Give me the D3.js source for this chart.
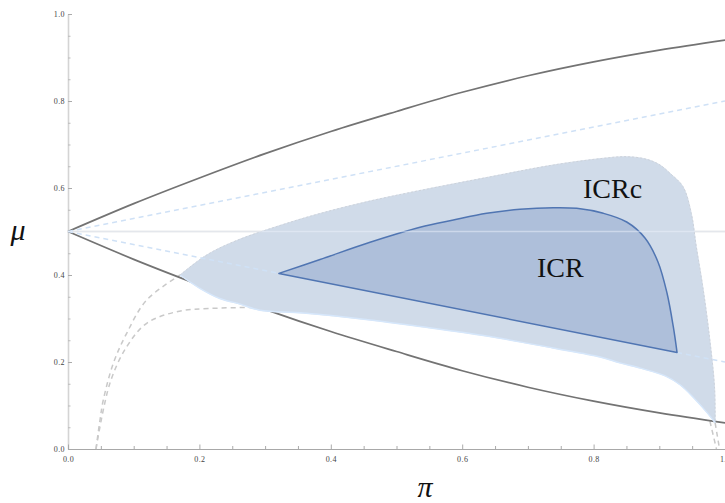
<!DOCTYPE html>
<html>
<head>
<meta charset="utf-8">
<script src="https://cdn.jsdelivr.net/npm/d3@7"></script>
<style>
  html, body { margin: 0; padding: 0; background: #fff; }
  svg { display: block; }
  .serif { font-family: "Liberation Serif", "Times New Roman", Times, "DejaVu Serif", "Noto Serif", serif; }
  .tick text { font-family: "Liberation Serif", "Times New Roman", Times, "DejaVu Serif", "Noto Serif", serif; font-size: 8px; fill: #444; letter-spacing: 0.4px; }
</style>
</head>
<body>
<svg id="chart" width="725" height="503"></svg>
<script>
// ---- data ----
// grid on the π axis used by the two outer bound curves
const piGrid    = [0, 0.1, 0.2, 0.3, 0.4, 0.5, 0.6, 0.7, 0.8, 0.9, 1.0];
const boundHigh = [0.5, 0.564, 0.623, 0.679, 0.730, 0.776, 0.820, 0.858, 0.890, 0.917, 0.940];
const boundLow  = [0.5, 0.436, 0.377, 0.321, 0.270, 0.224, 0.180, 0.142, 0.110, 0.083, 0.060];

// straight reference rays from (0, 0.5)
const rayPi   = [0, 1];
const rayHigh = [0.5, 0.8];
const rayLow  = [0.5, 0.2];

// grey dashed branches near the π axis
const branchA_pi = [0.0426, 0.0487, 0.0537, 0.069, 0.0893, 0.1198, 0.1705];
const branchA_mu = [0.0, 0.0667, 0.1126, 0.197, 0.266, 0.3425, 0.400];
const branchB_pi = [0.0426, 0.0639, 0.0893, 0.1198, 0.1654, 0.216, 0.292];
const branchB_mu = [0.0, 0.1517, 0.235, 0.289, 0.3156, 0.323, 0.3257];
const branchC_pi = [0.977, 0.987];
const branchC_mu = [0.064, 0.0];
const branchD_pi = [0.985, 0.9917];
const branchD_mu = [0.060, 0.0];

// ICRc region: outer edge (left tip -> over the top -> bottom-right tip)
const icrcTop_pi = [0.1705, 0.2111, 0.2567, 0.3227, 0.3836, 0.4597, 0.5358, 0.6372, 0.7387, 0.8148, 0.8504, 0.8808, 0.9011, 0.9163, 0.9361, 0.9487, 0.9563, 0.9662, 0.9763, 0.984, 0.985];
const icrcTop_mu = [0.400, 0.446, 0.4793, 0.5138, 0.5414, 0.5701, 0.5943, 0.6241, 0.6529, 0.6683, 0.672, 0.666, 0.6529, 0.6338, 0.603, 0.5418, 0.465, 0.3731, 0.2582, 0.1432, 0.060];
// ICRc region: inner edge (bottom-right tip -> left tip)
const icrcLow_pi = [0.985, 0.973, 0.954, 0.932, 0.909, 0.871, 0.840, 0.810, 0.738, 0.637, 0.536, 0.460, 0.358, 0.292, 0.262, 0.231, 0.200, 0.1705];
const icrcLow_mu = [0.060, 0.083, 0.115, 0.147, 0.168, 0.186, 0.198, 0.2115, 0.2322, 0.2598, 0.2816, 0.2966, 0.3126, 0.319, 0.333, 0.346, 0.370, 0.400];

// ICR region: curved top edge; the bottom edge is the straight chord back to the start
const icr_pi = [0.321, 0.3836, 0.4597, 0.5358, 0.5865, 0.6373, 0.688, 0.7387, 0.7743, 0.8148, 0.8504, 0.8782, 0.898, 0.9117, 0.9213, 0.927];
const icr_mu = [0.4037, 0.4356, 0.4752, 0.5097, 0.5264, 0.5418, 0.551, 0.5547, 0.5533, 0.5418, 0.5218, 0.485, 0.430, 0.3586, 0.2811, 0.2219];

// axes
const xMajor = [0, 0.2, 0.4, 0.6, 0.8, 1.0];
const yMajor = [0, 0.2, 0.4, 0.6, 0.8, 1.0];
const minorTicks = [0.05, 0.1, 0.15, 0.25, 0.3, 0.35, 0.45, 0.5, 0.55, 0.65, 0.7, 0.75, 0.85, 0.9, 0.95];
const regionLabels = ["ICRc", "ICR"];

// ---- drawing ----
const svg = d3.select("#chart");
const x = d3.scaleLinear().domain([0, 1]).range([68, 725]);
const y = d3.scaleLinear().domain([0, 1]).range([449, 14]);

const zip = (a, b) => a.map((v, i) => [v, b[i]]);
const smooth = d3.line().x(d => x(d[0])).y(d => y(d[1])).curve(d3.curveMonotoneX);
const spline = d3.line().x(d => x(d[0])).y(d => y(d[1])).curve(d3.curveCatmullRom.alpha(0.5));
const straight = d3.line().x(d => x(d[0])).y(d => y(d[1]));

// axes
const fmt = d => d.toFixed(1);
const yAxis = svg.append("g").attr("transform", "translate(68,0)")
  .call(d3.axisLeft(y).tickValues(yMajor).tickFormat(fmt).tickSizeInner(-4).tickSizeOuter(0).tickPadding(3));
const yMinor = svg.append("g").attr("transform", "translate(68,0)")
  .call(d3.axisLeft(y).tickValues(minorTicks).tickFormat("").tickSizeInner(-2.5).tickSizeOuter(0));
yAxis.select(".domain").attr("stroke", "#d4d4d4").attr("stroke-width", 1.6);
yMinor.select(".domain").remove();

const xAxis = svg.append("g").attr("transform", "translate(0,449)")
  .call(d3.axisBottom(x).tickValues(xMajor).tickFormat(fmt).tickSizeInner(-4.5).tickSizeOuter(0).tickPadding(7));
const xMinor = svg.append("g").attr("transform", "translate(0,449)")
  .call(d3.axisBottom(x).tickValues(minorTicks).tickFormat("").tickSizeInner(-3).tickSizeOuter(0));
xAxis.select(".domain").attr("stroke", "#a8a8a8").attr("stroke-width", 1.2);
xMinor.select(".domain").remove();
xAxis.selectAll(".tick line").attr("stroke", "#aaa");
xMinor.selectAll(".tick line").attr("stroke", "#aaa");
yAxis.selectAll(".tick line").attr("stroke", "#aaa");
yMinor.selectAll(".tick line").attr("stroke", "#bbb");
svg.selectAll(".tick text").attr("font-family", null);

// horizontal guide at μ = 0.5
svg.append("line").attr("x1", x(0)).attr("x2", x(1)).attr("y1", y(0.5)).attr("y2", y(0.5))
  .attr("stroke", "#dcdcdc").attr("stroke-width", 1.3);

// grey dashed branches
[[branchA_pi, branchA_mu], [branchB_pi, branchB_mu], [branchC_pi, branchC_mu], [branchD_pi, branchD_mu]]
  .forEach(([p, m]) => {
    svg.append("path").attr("d", spline(zip(p, m)))
      .attr("fill", "none").attr("stroke", "#c9c9c9").attr("stroke-width", 1.5)
      .attr("stroke-dasharray", "5,4");
  });

// outer bounds
[boundHigh, boundLow].forEach(vals => {
  svg.append("path").attr("d", smooth(zip(piGrid, vals)))
    .attr("fill", "none").attr("stroke", "#737373").attr("stroke-width", 1.7);
});

// upper ray (outside the regions)
svg.append("path").attr("d", straight(zip(rayPi, rayHigh)))
  .attr("fill", "none").attr("stroke", "#cfe1f6").attr("stroke-width", 1.5).attr("stroke-dasharray", "5,4");

// ICRc region
const topPath = spline(zip(icrcTop_pi, icrcTop_mu));
const lowPath = spline(zip(icrcLow_pi, icrcLow_mu));
svg.append("path").attr("d", topPath + "L" + lowPath.slice(1) + "Z")
  .attr("fill", "#d0dbe9").attr("stroke", "#d0dbe9").attr("stroke-width", 0.8);
svg.append("path").attr("d", lowPath)
  .attr("fill", "none").attr("stroke", "#d6e7fb").attr("stroke-width", 1.4);
svg.append("path").attr("d", topPath)
  .attr("fill", "none").attr("stroke", "#c9ced6").attr("stroke-width", 1).attr("stroke-opacity", 0.8)
  .attr("stroke-dasharray", "2,2");

// lower ray (runs across the ICRc region)
svg.append("path").attr("d", straight(zip(rayPi, rayLow)))
  .attr("fill", "none").attr("stroke", "#cfe1f6").attr("stroke-width", 1.5).attr("stroke-dasharray", "5,4");

// ICR region
const icrPts = zip(icr_pi, icr_mu);
svg.append("path").attr("d", spline(icrPts) + "Z")
  .attr("fill", "#aebfda").attr("stroke", "#5075b2").attr("stroke-width", 1.5)
  .attr("stroke-linejoin", "round");

// light overlay of the μ = 0.5 guide on top of the regions
svg.append("line").attr("x1", x(0)).attr("x2", x(1)).attr("y1", y(0.5)).attr("y2", y(0.5))
  .attr("stroke", "#ecf2fb").attr("stroke-opacity", 0.5).attr("stroke-width", 1.3);

// region labels
svg.append("text").attr("class", "serif").attr("x", 583).attr("y", 198).text(regionLabels[0])
  .attr("font-size", 28).attr("fill", "#111");
svg.append("text").attr("class", "serif").attr("x", 537).attr("y", 276.5).text(regionLabels[1])
  .attr("font-size", 28).attr("fill", "#111");

// axis titles
svg.append("text").attr("class", "serif").attr("x", 18).attr("y", 240).attr("text-anchor", "middle").text("μ")
  .attr("font-style", "italic").attr("font-size", 30).attr("fill", "#111");
svg.append("text").attr("class", "serif").attr("x", 425).attr("y", 497).attr("text-anchor", "middle").text("π")
  .attr("font-style", "italic").attr("font-size", 30).attr("fill", "#111");
</script>
</body>
</html>
